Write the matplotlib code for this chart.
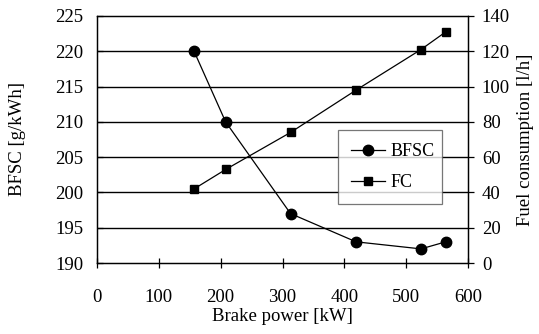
#!/usr/bin/env python3
"""BFSC and fuel consumption vs brake power."""

import matplotlib
matplotlib.use("Agg")
import matplotlib.pyplot as plt
from matplotlib.lines import Line2D

# data
brake_power = [157, 208, 313, 419, 524, 564]
bfsc = [220, 210, 197, 193, 192, 193]
fuel_consumption = [42, 53, 74, 98, 121, 131]

bfsc_ticks = [190, 195, 200, 205, 210, 215, 220, 225]
fc_ticks = [0, 20, 40, 60, 80, 100, 120, 140]
power_ticks = [0, 100, 200, 300, 400, 500, 600]

plt.rcParams['font.family'] = ['Liberation Serif', 'DejaVu Serif']
plt.rcParams['font.size'] = 13.5

fig = plt.figure(figsize=(5.39, 3.34), dpi=100)
ax = fig.add_axes([97 / 539, 1 - 263 / 334, 371 / 539, 247 / 334])
ax2 = ax.twinx()

ax.plot(brake_power, bfsc, color='black', lw=0.9, marker='o', markersize=7.5, zorder=3)
ax2.plot(brake_power, fuel_consumption, color='black', lw=0.9, marker='s', markersize=6, zorder=3)

ax.set_xlim(0, 600)
ax.set_ylim(190, 225)
ax2.set_ylim(0, 140)
ax.set_xticks(power_ticks)
ax.set_yticks(bfsc_ticks)
ax2.set_yticks(fc_ticks)

for y in bfsc_ticks[1:-1]:
    ax.axhline(y, color='black', lw=1.0, zorder=1)

for a in (ax, ax2):
    for s in a.spines.values():
        s.set_color('black')
        s.set_linewidth(0.9)

ax.tick_params(axis='x', direction='inout', length=7, width=0.9, pad=15)
ax.tick_params(axis='y', direction='in', length=4, width=0.9, pad=10)
ax2.tick_params(axis='y', direction='out', length=4, width=0.9, pad=6)

ax.set_xlabel('Brake power [kW]', labelpad=2)
ax.set_ylabel('BFSC [g/kWh]', labelpad=21)
ax2.set_ylabel('Fuel consumption [l/h]', labelpad=5)

handles = [
    Line2D([], [], color='black', lw=0.9, marker='o', markersize=7.5),
    Line2D([], [], color='black', lw=0.9, marker='s', markersize=6),
]
leg = ax2.legend(handles, ['BFSC', 'FC'], loc='lower left',
                 bbox_to_anchor=(0.65, 0.239, 0.28, 0.283), mode='expand',
                 borderaxespad=0, frameon=True, fancybox=False,
                 handlelength=1.9, handletextpad=0.3, borderpad=0.7,
                 labelspacing=0.8, fontsize=13)
leg.get_frame().set_edgecolor('#555555')
leg.get_frame().set_linewidth(0.9)

plt.savefig('out.png', dpi=100)
